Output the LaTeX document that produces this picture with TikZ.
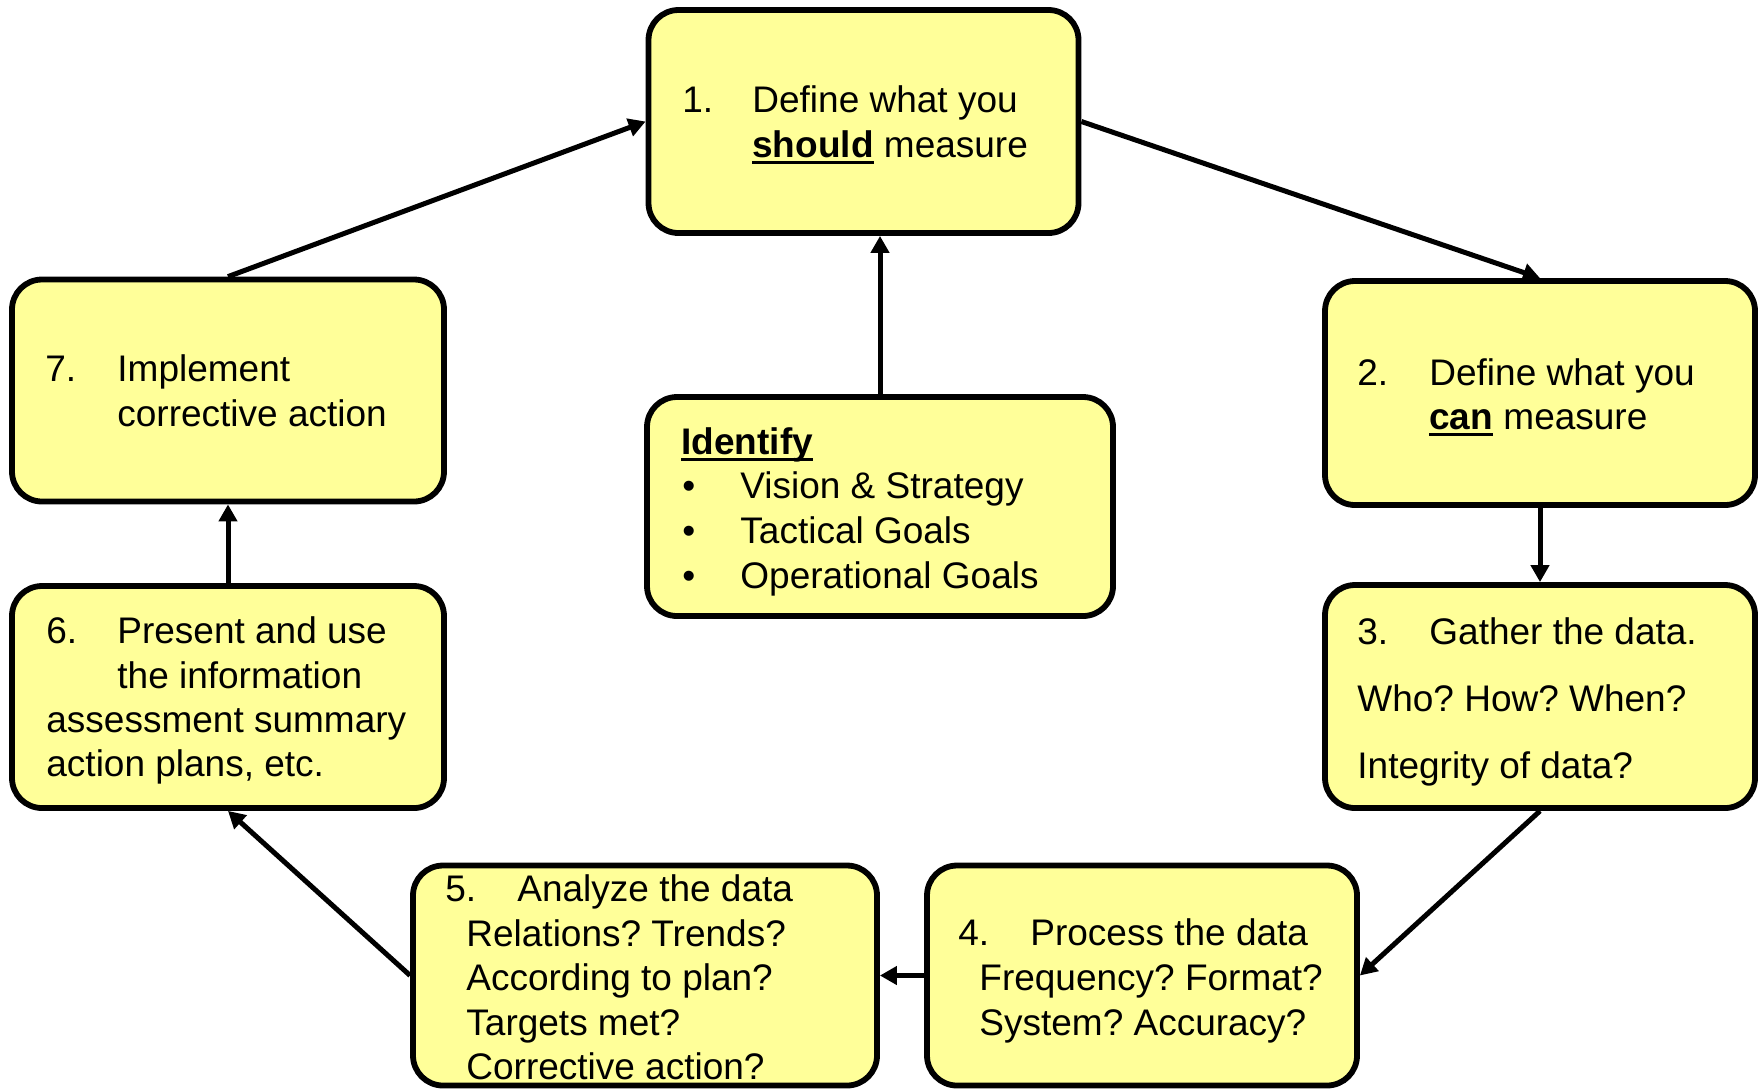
\documentclass[tikz,border=0pt]{standalone}
\usepackage{fontspec}
\setmainfont{Liberation Sans}
\usetikzlibrary{arrows.meta}
\definecolor{boxfill}{HTML}{FFFF99}
\newcommand\myul[1]{\setbox0\hbox{#1}\rlap{\rule[-3.65pt]{\wd0}{1.8pt}}\box0\relax}
\frenchspacing
\begin{document}
\begin{tikzpicture}[x=0.5pt,y=-0.5pt,
  box/.style={draw=black, line width=2.9pt, fill=boxfill, rounded corners=15pt, inner sep=0pt},
  txt/.style={anchor=base west, inner sep=0pt, font=\fontsize{18.5pt}{22pt}\selectfont},
  arr/.style={line width=2.5pt, -{Triangle[length=8.5pt,width=9pt]}}]
\useasboundingbox (0,0) rectangle (1760,1089);
% boxes
\node[box, minimum width=215pt, minimum height=111.5pt] (b1) at (863.5,121.5) {};
\node[box, minimum width=215pt, minimum height=112pt] (b2) at (1540,393) {};
\node[box, minimum width=215pt, minimum height=111.5pt] (b3) at (1540,696.5) {};
\node[box, minimum width=215pt, minimum height=110pt] (b4) at (1142,975.5) {};
\node[box, minimum width=232pt, minimum height=110pt] (b5) at (645,975.5) {};
\node[box, minimum width=216pt, minimum height=111pt] (b6) at (228,697) {};
\node[box, minimum width=216pt, minimum height=111pt] (b7) at (228,390.5) {};
\node[box, minimum width=233pt, minimum height=109.5pt] (bc) at (880,506.5) {};
% box 1
\node[txt] (t1n) at (682,112) {1.};
\node[txt] (t1a) at (752,112) {Define what you};
\node[txt] (t1b) at (752,157) {\myul{\textbf{should}} measure};
% box 2
\node[txt] (t2n) at (1357,385) {2.};
\node[txt] (t2a) at (1429,385) {Define what you};
\node[txt] (t2b) at (1429,429) {\myul{\textbf{can}} measure};
% box 3
\node[txt] (t3n) at (1357,644) {3.};
\node[txt] (t3a) at (1429,644) {Gather the data.};
\node[txt] (t3b) at (1357,711) {Who? How? When?};
\node[txt] (t3c) at (1357,778) {Integrity of data?};
% box 4
\node[txt] (t4n) at (958,945) {4.};
\node[txt] (t4a) at (1030,945) {Process the data};
\node[txt] (t4b) at (979,990) {Frequency? Format?};
\node[txt] (t4c) at (979,1035) {System? Accuracy?};
% box 5
\node[txt] (t5n) at (445,901.5) {5.};
\node[txt] (t5a) at (517,901.5) {Analyze the data};
\node[txt] (t5b) at (466,946) {Relations? Trends?};
\node[txt] (t5c) at (466,990.5) {According to plan?};
\node[txt] (t5d) at (466,1035) {Targets met?};
\node[txt] (t5e) at (466,1079) {Corrective action?};
% box 6
\node[txt] (t6n) at (46,643) {6.};
\node[txt] (t6a) at (117,643) {Present and use};
\node[txt] (t6b) at (117,688) {the information};
\node[txt] (t6c) at (46,732) {assessment summary};
\node[txt] (t6d) at (46,776) {action plans, etc.};
% box 7
\node[txt] (t7n) at (45,381.5) {7.};
\node[txt] (t7a) at (117,381.5) {Implement};
\node[txt] (t7b) at (117,426) {corrective action};
% center box
\node[txt] (tca) at (681,454) {\myul{\textbf{Identify}}};
\node[txt] (tcb1) at (682,498.5) {•};
\node[txt] (tcb) at (740,498.5) {Vision \& Strategy};
\node[txt] (tcc1) at (682,543.5) {•};
\node[txt] (tcc) at (740,543.5) {Tactical Goals};
\node[txt] (tcd1) at (682,588) {•};
\node[txt] (tcd) at (740,588) {Operational Goals};
% connectors
\draw[arr] (b7.north) -- (b1.west);
\draw[arr] (b1.east) -- (b2.north);
\draw[arr] (b2.south) -- (b3.north);
\draw[arr] (b3.south) -- (b4.east);
\draw[arr] (b4.west) -- (b5.east);
\draw[arr] (b5.west) -- (b6.south);
\draw[arr] (b6.north) -- (b7.south);
\draw[arr] (bc.north) -- (bc.north |- b1.south);
\end{tikzpicture}
\end{document}
